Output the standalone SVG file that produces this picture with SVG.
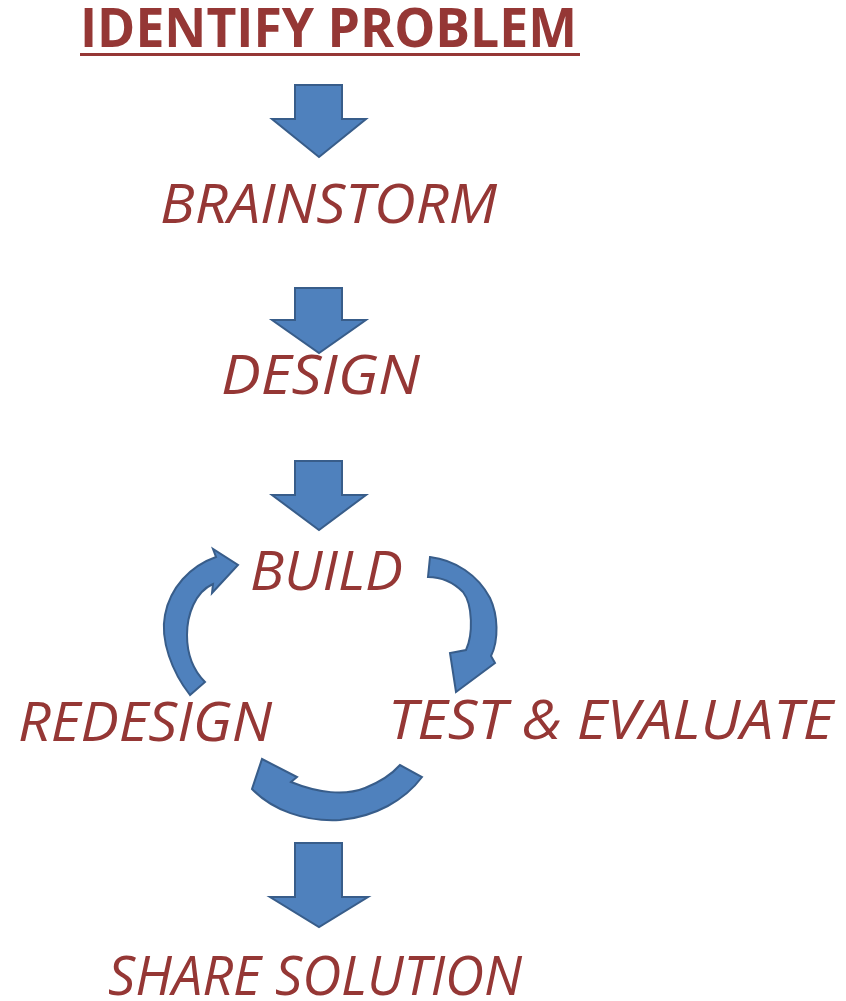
<svg xmlns="http://www.w3.org/2000/svg" width="846" height="1001" viewBox="0 0 846 1001">
<style>
.lbl{font-family:"Open Sans","Liberation Sans",sans-serif;font-style:italic;font-size:54px;fill:#953735}
.ttl{font-family:"Open Sans","Liberation Sans",sans-serif;font-weight:bold;font-size:54px;fill:#953735}
.arr{fill:#4F81BD;stroke:#385D8A;stroke-width:2;stroke-linejoin:miter}
</style>
<rect width="846" height="1001" fill="#ffffff"/>
<g id="identify">
<text class="ttl" x="80" y="47" textLength="497" lengthAdjust="spacingAndGlyphs">IDENTIFY PROBLEM</text>
<rect x="80" y="53" width="500" height="3" fill="#953735"/>
</g>
<g id="brainstorm"><text class="lbl" x="160" y="223" textLength="337" lengthAdjust="spacingAndGlyphs">BRAINSTORM</text></g>
<g id="design"><text class="lbl" x="221" y="394" textLength="199" lengthAdjust="spacingAndGlyphs">DESIGN</text></g>
<g id="build"><text class="lbl" x="250" y="590" textLength="153" lengthAdjust="spacingAndGlyphs">BUILD</text></g>
<g id="redesign"><text class="lbl" x="18" y="741" textLength="254" lengthAdjust="spacingAndGlyphs">REDESIGN</text></g>
<g id="test"><text class="lbl" x="388" y="739" textLength="445" lengthAdjust="spacingAndGlyphs">TEST &amp; EVALUATE</text></g>
<g id="share"><text class="lbl" x="108" y="995" textLength="414" lengthAdjust="spacingAndGlyphs">SHARE SOLUTION</text></g>
<g id="connectors">
<path class="arr" d="M295,85 H342 V119 H366 L319,157 L272,119 H295 Z"/>
<path class="arr" d="M295,288 H342 V320 H366 L319,353 L272,320 H295 Z"/>
<path class="arr" d="M295,461 H342 V495 H366 L319,530 L272,495 H295 Z"/>
<path class="arr" d="M295,843 H342 V897 H368 L319,927 L270,897 H295 Z"/>
<path class="arr" d="M190,695 C172,672 160,640 165,615 C170,588 190,566 216,557 L213,549 L238,565 L212,593 L213,584 C195,592 187,615 187,635 C187,655 193,670 205,682 Z"/>
<path class="arr" d="M430,557 C455,560 478,575 490,598 C498,615 499,640 491,656 L495,663 L456,692 L450,653 L466,650 C473,635 473,605 463,592 C453,582 440,577 428,577 Z"/>
<path class="arr" d="M422,777 C405,800 375,817 340,820 C305,822 272,810 252,789 L262,759 L297,777 L291,782 C318,793 345,796 365,788 C380,782 392,774 400,765 Z"/>
</g>
</svg>
